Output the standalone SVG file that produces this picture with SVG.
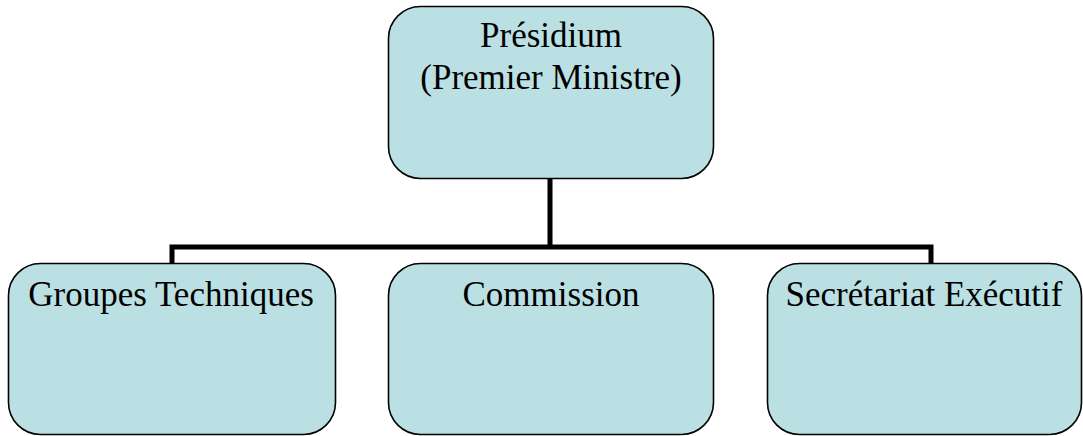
<svg xmlns="http://www.w3.org/2000/svg" width="1083" height="436" viewBox="0 0 1083 436">
<style>
.box{fill:#BBE0E3;stroke:#000;stroke-width:1.6}
.t{font-family:"Liberation Serif","Times New Roman",serif;font-size:35px;fill:#000;text-anchor:middle}
.c{fill:none;stroke:#000;stroke-width:5}
</style>
<rect width="1083" height="436" fill="#fff"/>
<g id="connectors">
<path class="c" d="M550 178V247M172 265V247H931V265"/>
</g>
<g id="presidium">
<rect class="box" x="388.5" y="6.5" width="325" height="172" rx="32"/>
<text class="t" x="551" y="47">Présidium</text>
<text class="t" x="551" y="89">(Premier Ministre)</text>
</g>
<g id="groupes">
<rect class="box" x="8.5" y="263.5" width="327" height="171" rx="32"/>
<text class="t" x="171" y="306">Groupes Techniques</text>
</g>
<g id="commission">
<rect class="box" x="388.5" y="263.5" width="325" height="171" rx="32"/>
<text class="t" x="551" y="306">Commission</text>
</g>
<g id="secretariat">
<rect class="box" x="767.5" y="263.5" width="314" height="171" rx="32"/>
<text class="t" x="924" y="306">Secrétariat Exécutif</text>
</g>
</svg>
